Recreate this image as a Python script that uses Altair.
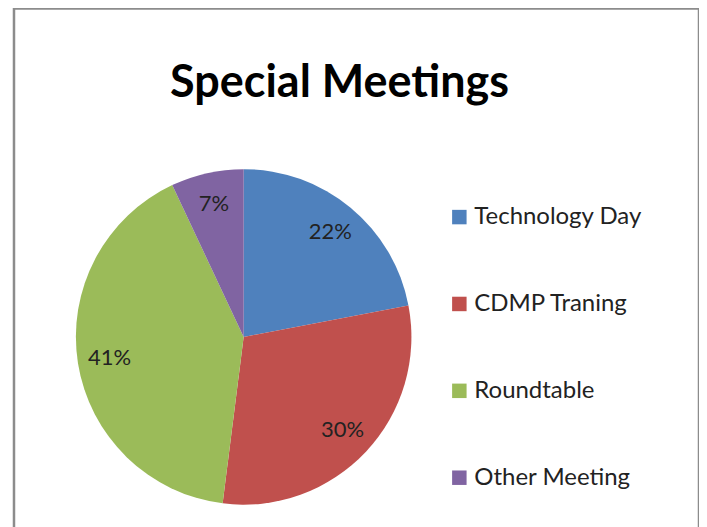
import altair as alt
import pandas as pd

categories = ["Technology Day", "CDMP Traning", "Roundtable", "Other Meeting"]
values = [22, 30, 41, 7]
colors = ["#4F81BD", "#C0504D", "#9BBB59", "#8064A2"]
title_text = "Special Meetings"

df = pd.DataFrame({
    "category": categories,
    "value": values,
    "idx": list(range(len(categories))),
    "label": [f"{v}%" for v in values],
})

CX, CY, R = 230, 329, 168
FONT = "Lato"

base = alt.Chart(df).encode(
    theta=alt.Theta("value:Q", stack=True),
    order=alt.Order("idx:Q"),
)

pie = base.mark_arc(outerRadius=R).encode(
    x=alt.value(CX),
    y=alt.value(CY),
    color=alt.Color(
        "category:N",
        scale=alt.Scale(domain=categories, range=colors),
        sort=categories,
        legend=alt.Legend(
            title=None,
            orient="none",
            legendX=434,
            legendY=197,
            symbolType="square",
            symbolSize=210,
            symbolStrokeWidth=0,
            labelFont=FONT,
            labelFontSize=24,
            labelColor="#222222",
            labelOffset=3,
            rowPadding=63,
            labelLimit=300,
        ),
    ),
)

labels = base.mark_text(radius=136, font=FONT, fontSize=22, color="#222222").encode(
    x=alt.value(CX),
    y=alt.value(CY),
    text="label:N",
)

title = alt.Chart(pd.DataFrame({"t": [title_text]})).mark_text(
    font=FONT, fontSize=45, fontWeight="bold", color="#000000", baseline="alphabetic"
).encode(x=alt.value(326), y=alt.value(89), text="t:N")

chart = (
    alt.layer(pie, labels, title)
    .properties(
        width=686,
        height=530,
        padding={"left": 6, "top": 0, "right": 0, "bottom": 0},
        view=alt.ViewBackground(stroke="#8C8C8C", strokeWidth=2.5, fill="white"),
    )
    .configure(background="white")
)

chart.save("out.html", embed_options={"renderer": "svg", "actions": False})
